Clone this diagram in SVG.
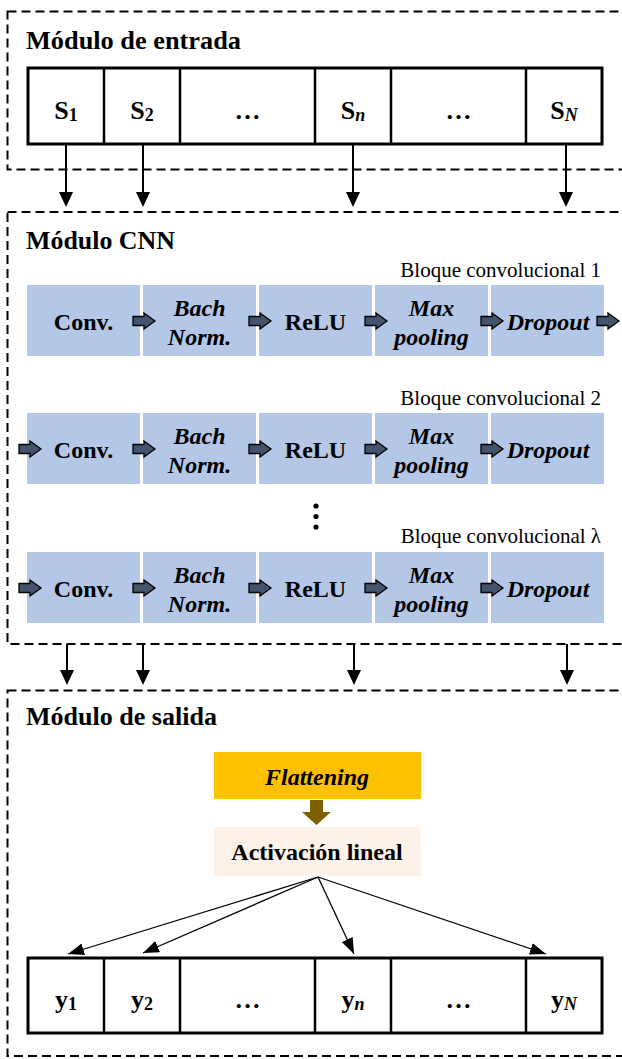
<svg xmlns="http://www.w3.org/2000/svg" width="622" height="1059" viewBox="0 0 622 1059">
  <style>
    .module { fill: none; stroke: #000; stroke-width: 2; stroke-dasharray: 9 5; }
    .title { font-family: "Liberation Serif", "Times New Roman", serif; font-weight: bold; font-size: 25px; fill: #000; }
    .blocklabel { font-family: "Liberation Serif", "Times New Roman", serif; font-size: 21px; fill: #000; text-anchor: end; }
    .cellbox { fill: #fff; stroke: #000; stroke-width: 3; }
    .celldiv { stroke: #000; stroke-width: 2.5; }
    .cell { font-family: "Liberation Serif", "Times New Roman", serif; font-weight: bold; font-size: 26px; fill: #000; text-anchor: middle; }
    .sub { font-size: 18px; }
    .it { font-style: italic; }
    .layer { fill: #B4C7E7; }
    .ltext { font-family: "Liberation Serif", "Times New Roman", serif; font-weight: bold; font-size: 24px; fill: #000; text-anchor: middle; }
    .blockarrow { fill: #44546A; stroke: #000; stroke-width: 1.3; stroke-linejoin: miter; }
    .down { stroke: #000; stroke-width: 2; fill: none; }
    .head { fill: #000; }
    .fan { stroke: #000; stroke-width: 1.3; fill: none; marker-end: url(#tri); }
  </style>
  <defs>
    <marker id="tri" viewBox="0 0 16 12" refX="16" refY="6" markerWidth="16" markerHeight="12" markerUnits="userSpaceOnUse" orient="auto">
      <path d="M0,0 L16,6 L0,12 Z" fill="#000"/>
    </marker>
    <path id="ba" d="M0,-4.5 H11 V-8 L22,0 L11,8 V4.5 H0 Z"/>
    <path id="dn" d="M-7,0 H7 L0,15 Z"/>
  </defs>

  <!-- Input module -->
  <g id="modulo-entrada">
    <rect class="module" x="7.5" y="11.5" width="700" height="158"/>
    <text class="title" x="26" y="49" textLength="215" lengthAdjust="spacingAndGlyphs">Módulo de entrada</text>
    <rect class="cellbox" x="28" y="68" width="574" height="76"/>
    <line class="celldiv" x1="104" y1="68" x2="104" y2="144"/>
    <line class="celldiv" x1="180" y1="68" x2="180" y2="144"/>
    <line class="celldiv" x1="315" y1="68" x2="315" y2="144"/>
    <line class="celldiv" x1="391" y1="68" x2="391" y2="144"/>
    <line class="celldiv" x1="526" y1="68" x2="526" y2="144"/>
    <text class="cell" x="66" y="119">S<tspan class="sub" dy="2">1</tspan></text>
    <text class="cell" x="142" y="119">S<tspan class="sub" dy="2">2</tspan></text>
    <text class="cell" x="247.5" y="119">…</text>
    <text class="cell" x="353" y="119">S<tspan class="sub it" dy="2">n</tspan></text>
    <text class="cell" x="458.5" y="119">…</text>
    <text class="cell" x="564" y="119">S<tspan class="sub it" dy="2">N</tspan></text>
  </g>

  <!-- CNN module -->
  <g id="modulo-cnn">
    <rect class="module" x="7.5" y="212" width="700" height="432"/>
    <text class="title" x="26" y="249" textLength="149" lengthAdjust="spacingAndGlyphs">Módulo CNN</text>

    <g id="bloque-1">
      <text class="blocklabel" x="601" y="277">Bloque convolucional 1</text>
      <rect class="layer" x="27" y="285" width="113" height="71"/>
      <rect class="layer" x="143" y="285" width="113" height="71"/>
      <rect class="layer" x="259" y="285" width="113" height="71"/>
      <rect class="layer" x="375" y="285" width="113" height="71"/>
      <rect class="layer" x="491" y="285" width="113" height="71"/>
      <text class="ltext" x="83.5" y="330">Conv.</text>
      <text class="ltext it" x="199.5" y="316">Bach</text>
      <text class="ltext it" x="199.5" y="345">Norm.</text>
      <text class="ltext" x="315.5" y="330">ReLU</text>
      <text class="ltext it" x="431.5" y="316">Max</text>
      <text class="ltext it" x="431.5" y="345">pooling</text>
      <text class="ltext it" x="548" y="330">Dropout</text>
      <use href="#ba" class="blockarrow" x="133" y="321"/>
      <use href="#ba" class="blockarrow" x="249" y="321"/>
      <use href="#ba" class="blockarrow" x="365" y="321"/>
      <use href="#ba" class="blockarrow" x="481" y="321"/>
      <use href="#ba" class="blockarrow" x="597" y="321"/>
    </g>

    <g id="bloque-2">
      <text class="blocklabel" x="601" y="405">Bloque convolucional 2</text>
      <rect class="layer" x="27" y="413" width="113" height="71"/>
      <rect class="layer" x="143" y="413" width="113" height="71"/>
      <rect class="layer" x="259" y="413" width="113" height="71"/>
      <rect class="layer" x="375" y="413" width="113" height="71"/>
      <rect class="layer" x="491" y="413" width="113" height="71"/>
      <text class="ltext" x="83.5" y="458">Conv.</text>
      <text class="ltext it" x="199.5" y="444">Bach</text>
      <text class="ltext it" x="199.5" y="473">Norm.</text>
      <text class="ltext" x="315.5" y="458">ReLU</text>
      <text class="ltext it" x="431.5" y="444">Max</text>
      <text class="ltext it" x="431.5" y="473">pooling</text>
      <text class="ltext it" x="548" y="458">Dropout</text>
      <use href="#ba" class="blockarrow" x="19" y="449"/>
      <use href="#ba" class="blockarrow" x="133" y="449"/>
      <use href="#ba" class="blockarrow" x="249" y="449"/>
      <use href="#ba" class="blockarrow" x="365" y="449"/>
      <use href="#ba" class="blockarrow" x="481" y="449"/>
    </g>

    <g id="continuacion">
      <circle cx="316" cy="506" r="2.6"/>
      <circle cx="316" cy="516.5" r="2.6"/>
      <circle cx="316" cy="527" r="2.6"/>
    </g>

    <g id="bloque-lambda">
      <text class="blocklabel" x="601" y="543">Bloque convolucional λ</text>
      <rect class="layer" x="27" y="552" width="113" height="71"/>
      <rect class="layer" x="143" y="552" width="113" height="71"/>
      <rect class="layer" x="259" y="552" width="113" height="71"/>
      <rect class="layer" x="375" y="552" width="113" height="71"/>
      <rect class="layer" x="491" y="552" width="113" height="71"/>
      <text class="ltext" x="83.5" y="597">Conv.</text>
      <text class="ltext it" x="199.5" y="583">Bach</text>
      <text class="ltext it" x="199.5" y="612">Norm.</text>
      <text class="ltext" x="315.5" y="597">ReLU</text>
      <text class="ltext it" x="431.5" y="583">Max</text>
      <text class="ltext it" x="431.5" y="612">pooling</text>
      <text class="ltext it" x="548" y="597">Dropout</text>
      <use href="#ba" class="blockarrow" x="19" y="588"/>
      <use href="#ba" class="blockarrow" x="133" y="588"/>
      <use href="#ba" class="blockarrow" x="249" y="588"/>
      <use href="#ba" class="blockarrow" x="365" y="588"/>
      <use href="#ba" class="blockarrow" x="481" y="588"/>
    </g>
  </g>

  <!-- Output module -->
  <g id="modulo-salida">
    <rect class="module" x="7.5" y="690.5" width="700" height="365.5"/>
    <text class="title" x="26" y="725" textLength="191" lengthAdjust="spacingAndGlyphs">Módulo de salida</text>
  </g>

  <g id="flattening">
    <rect x="214" y="752" width="207" height="47" fill="#FFC000"/>
    <text class="ltext it" x="317" y="785">Flattening</text>
  </g>

  <g id="activacion">
    <rect x="214" y="827" width="207" height="49" fill="#FDF2E9"/>
    <text class="ltext" x="317" y="860">Activación lineal</text>
  </g>

  <g id="salida">
    <rect class="cellbox" x="28" y="958" width="574" height="75"/>
    <line class="celldiv" x1="104" y1="958" x2="104" y2="1033"/>
    <line class="celldiv" x1="180" y1="958" x2="180" y2="1033"/>
    <line class="celldiv" x1="315" y1="958" x2="315" y2="1033"/>
    <line class="celldiv" x1="391" y1="958" x2="391" y2="1033"/>
    <line class="celldiv" x1="526" y1="958" x2="526" y2="1033"/>
    <text class="cell" x="66" y="1008">y<tspan class="sub" dy="2">1</tspan></text>
    <text class="cell" x="142" y="1008">y<tspan class="sub" dy="2">2</tspan></text>
    <text class="cell" x="247.5" y="1008">…</text>
    <text class="cell" x="353" y="1008">y<tspan class="sub it" dy="2">n</tspan></text>
    <text class="cell" x="458.5" y="1008">…</text>
    <text class="cell" x="564" y="1008">y<tspan class="sub it" dy="2">N</tspan></text>
  </g>

  <!-- Connectors -->
  <g id="conectores">
    <line class="down" x1="66" y1="144" x2="66" y2="193"/>
    <line class="down" x1="143" y1="144" x2="143" y2="193"/>
    <line class="down" x1="353" y1="144" x2="353" y2="193"/>
    <line class="down" x1="566" y1="144" x2="566" y2="193"/>
    <use href="#dn" class="head" x="66" y="192"/>
    <use href="#dn" class="head" x="143" y="192"/>
    <use href="#dn" class="head" x="353" y="192"/>
    <use href="#dn" class="head" x="566" y="192"/>

    <line class="down" x1="67" y1="644" x2="67" y2="671"/>
    <line class="down" x1="143" y1="644" x2="143" y2="671"/>
    <line class="down" x1="354" y1="644" x2="354" y2="671"/>
    <line class="down" x1="567" y1="644" x2="567" y2="671"/>
    <use href="#dn" class="head" x="67" y="670"/>
    <use href="#dn" class="head" x="143" y="670"/>
    <use href="#dn" class="head" x="354" y="670"/>
    <use href="#dn" class="head" x="567" y="670"/>

    <path d="M310,800 H323 V812 H331 L316.5,825 L302,812 H310 Z" fill="#7F6000"/>

    <line class="fan" x1="318" y1="877" x2="68" y2="954"/>
    <line class="fan" x1="318" y1="877" x2="143" y2="953"/>
    <line class="fan" x1="318" y1="877" x2="354" y2="954"/>
    <line class="fan" x1="318" y1="877" x2="546" y2="954"/>
  </g>
</svg>
